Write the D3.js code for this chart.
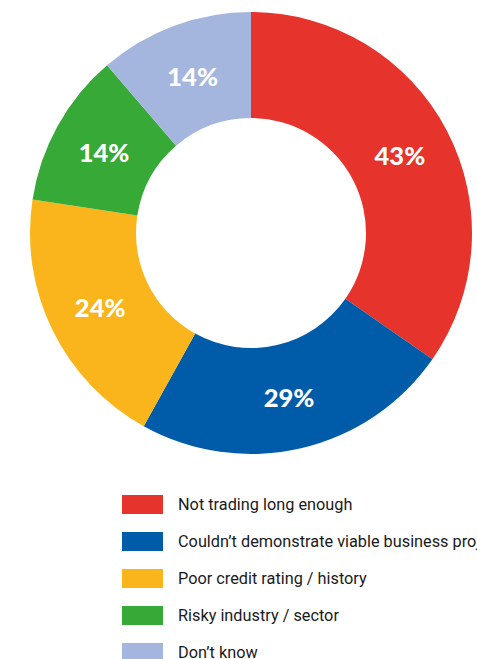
<!DOCTYPE html>
<html>
<head>
<meta charset="utf-8">
<script src="https://cdn.jsdelivr.net/npm/d3@7"></script>
<style>
  html, body { margin: 0; padding: 0; background: #fff; overflow: hidden; }
  svg { display: block; }
</style>
</head>
<body>
<svg id="chart" width="477" height="659"></svg>
<script>
// Reasons given for refusal, as share of respondents
const categories = [
  "Not trading long enough",
  "Couldn\u2019t demonstrate viable business proj",
  "Poor credit rating / history",
  "Risky industry / sector",
  "Don\u2019t know"
];
const values = [43, 29, 24, 14, 14];
const colors = ["#E6332B", "#005BA9", "#F9B51B", "#36A936", "#A4B6DE"];

const svg = d3.select("#chart");
const cx = 251, cy = 233;
const outerR = 221, innerR = 115;

const data = categories.map((c, i) => ({ category: c, value: values[i], color: colors[i] }));

const pie = d3.pie().value(d => d.value).sort(null);
const arc = d3.arc().innerRadius(innerR).outerRadius(outerR);

const g = svg.append("g").attr("transform", `translate(${cx},${cy})`);
const arcs = pie(data);

g.selectAll("path.slice")
  .data(arcs)
  .join("path")
  .attr("class", "slice")
  .attr("d", arc)
  .attr("fill", d => d.data.color);

g.selectAll("text.pct")
  .data(arcs)
  .join("text")
  .attr("class", "pct")
  .attr("transform", d => `translate(${arc.centroid(d)})`)
  .attr("text-anchor", "middle")
  .attr("dy", "0.4em")
  .attr("fill", "#fff")
  .style("font-family", "Lato, 'Open Sans', sans-serif")
  .style("font-weight", 900)
  .style("font-size", "25.5px")
  .text(d => d.data.value + "%");

// Legend below the ring
const legend = svg.append("g").attr("transform", "translate(122,495)");
const rowStep = 37;
const item = legend.selectAll("g.item")
  .data(data)
  .join("g")
  .attr("class", "item")
  .attr("transform", (d, i) => `translate(0,${i * rowStep})`);

item.append("rect")
  .attr("width", 41)
  .attr("height", 19)
  .attr("fill", d => d.color);

item.append("text")
  .attr("x", 56)
  .attr("y", 15.2)
  .attr("fill", "#1a1a1a")
  .style("font-family", "Roboto, 'Open Sans', sans-serif")
  .style("font-size", "16.3px")
  .text(d => d.category);
</script>
</body>
</html>
